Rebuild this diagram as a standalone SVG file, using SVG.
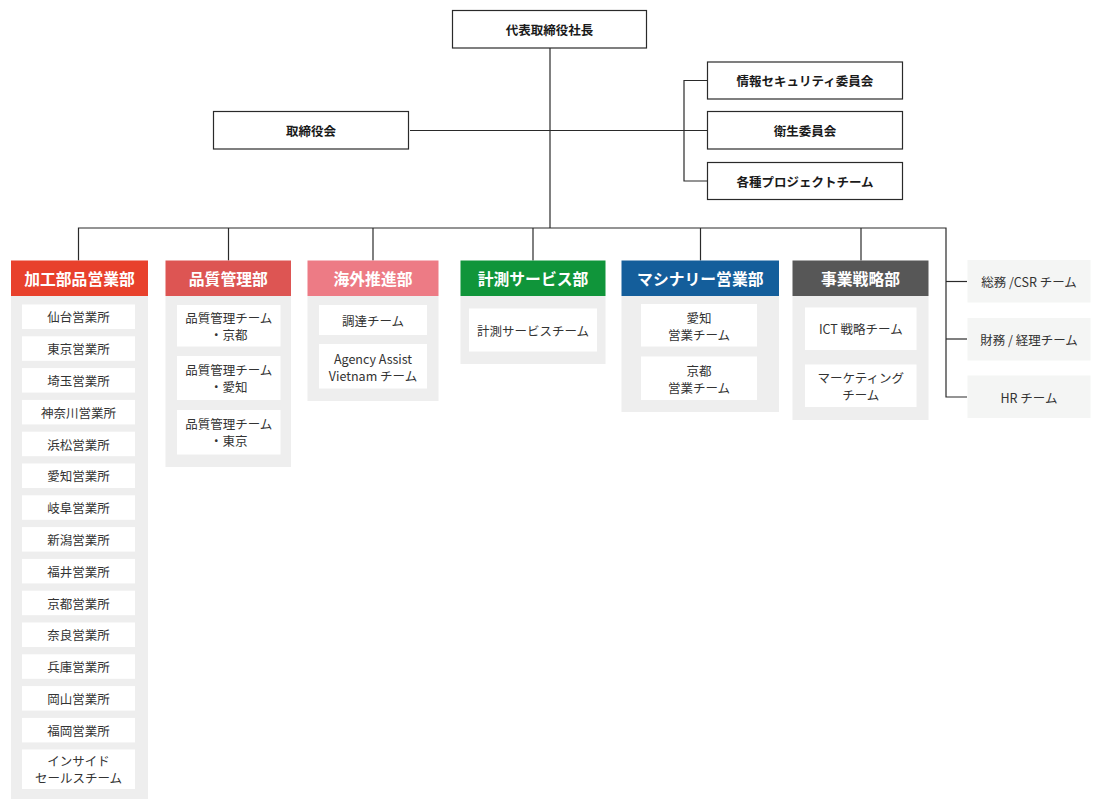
<svg xmlns="http://www.w3.org/2000/svg" width="1100" height="810" viewBox="0 0 1100 810">
<style>
.bg{fill:#ffffff}
.top{fill:#ffffff;stroke:#2a2a2a;stroke-width:1.2}
.toptx{font-family:"Noto Sans CJK JP","Noto Sans",sans-serif;font-size:12.5px;font-weight:bold;fill:#1a1a1a;text-anchor:middle;dominant-baseline:central}
.hdtx{font-family:"Noto Sans CJK JP","Noto Sans",sans-serif;font-size:15.8px;font-weight:bold;fill:#ffffff;text-anchor:middle;dominant-baseline:central}
.body{fill:#eeeeee}
.sub{fill:#ffffff}
.subtx{font-family:"Noto Sans CJK JP","Noto Sans",sans-serif;font-size:12.5px;fill:#333333;text-anchor:middle;dominant-baseline:central}
.team{fill:#f4f5f4}
.ln{stroke:#2a2a2a;stroke-width:1.2;fill:none}
</style>
<rect class="bg" x="0" y="0" width="1100" height="810"/>
<g id="connectors">
<path class="ln" d="M550 48 V228"/>
<path class="ln" d="M410 130.5 H707"/>
<path class="ln" d="M707 80.5 H684 V181 H707"/>
<path class="ln" d="M78.5 260.5 V228 H946 V397 H967"/>
<path class="ln" d="M228.5 228 V260.5"/>
<path class="ln" d="M373 228 V260.5"/>
<path class="ln" d="M533 228 V260.5"/>
<path class="ln" d="M700.5 228 V260.5"/>
<path class="ln" d="M861 228 V260.5"/>
<path class="ln" d="M946 281.5 H967"/>
<path class="ln" d="M946 339 H967"/>
</g>
<g id="president"><rect class="top" x="452.5" y="10.5" width="194" height="37.5"/><text class="toptx" x="549.5" y="29.5">代表取締役社長</text></g>
<g id="board"><rect class="top" x="213.5" y="111.5" width="195" height="37.5"/><text class="toptx" x="311" y="130.5">取締役会</text></g>
<g id="security"><rect class="top" x="707.5" y="62" width="195" height="37"/><text class="toptx" x="805" y="80.5">情報セキュリティ委員会</text></g>
<g id="health"><rect class="top" x="707.5" y="111.5" width="195" height="37.5"/><text class="toptx" x="805" y="130.5">衛生委員会</text></g>
<g id="projects"><rect class="top" x="707.5" y="162.5" width="195" height="37"/><text class="toptx" x="805" y="181">各種プロジェクトチーム</text></g>

<g id="dept-kako">
<rect class="body" x="11" y="296" width="137" height="503"/>
<rect x="11" y="260.5" width="137" height="35.5" fill="#e8412c"/>
<text class="hdtx" x="79.5" y="278.5">加工部品営業部</text>
<rect class="sub" x="22" y="304.5" width="113" height="24.5"/><text class="subtx" x="78.5" y="316.8">仙台営業所</text>
<rect class="sub" x="22" y="336.3" width="113" height="24.5"/><text class="subtx" x="78.5" y="348.6">東京営業所</text>
<rect class="sub" x="22" y="368.1" width="113" height="24.5"/><text class="subtx" x="78.5" y="380.4">埼玉営業所</text>
<rect class="sub" x="22" y="399.9" width="113" height="24.5"/><text class="subtx" x="78.5" y="412.2">神奈川営業所</text>
<rect class="sub" x="22" y="431.7" width="113" height="24.5"/><text class="subtx" x="78.5" y="444">浜松営業所</text>
<rect class="sub" x="22" y="463.5" width="113" height="24.5"/><text class="subtx" x="78.5" y="475.8">愛知営業所</text>
<rect class="sub" x="22" y="495.3" width="113" height="24.5"/><text class="subtx" x="78.5" y="507.6">岐阜営業所</text>
<rect class="sub" x="22" y="527.1" width="113" height="24.5"/><text class="subtx" x="78.5" y="539.4">新潟営業所</text>
<rect class="sub" x="22" y="558.9" width="113" height="24.5"/><text class="subtx" x="78.5" y="571.2">福井営業所</text>
<rect class="sub" x="22" y="590.7" width="113" height="24.5"/><text class="subtx" x="78.5" y="603">京都営業所</text>
<rect class="sub" x="22" y="622.5" width="113" height="24.5"/><text class="subtx" x="78.5" y="634.8">奈良営業所</text>
<rect class="sub" x="22" y="654.3" width="113" height="24.5"/><text class="subtx" x="78.5" y="666.6">兵庫営業所</text>
<rect class="sub" x="22" y="686.1" width="113" height="24.5"/><text class="subtx" x="78.5" y="698.4">岡山営業所</text>
<rect class="sub" x="22" y="717.9" width="113" height="24.5"/><text class="subtx" x="78.5" y="730.2">福岡営業所</text>
<rect class="sub" x="22" y="749.5" width="113" height="39.5"/><text class="subtx" x="78.5" y="760.5">インサイド</text><text class="subtx" x="78.5" y="777.5">セールスチーム</text>
</g>

<g id="dept-quality">
<rect class="body" x="165.5" y="296" width="125.5" height="171"/>
<rect x="165.5" y="260.5" width="125.5" height="35.5" fill="#dd5553"/>
<text class="hdtx" x="228.3" y="278.5">品質管理部</text>
<rect class="sub" x="177" y="305" width="103.5" height="41.5"/><text class="subtx" x="228.8" y="317.5">品質管理チーム</text><text class="subtx" x="228.8" y="334.5">・京都</text>
<rect class="sub" x="177" y="356" width="103.5" height="44"/><text class="subtx" x="228.8" y="369.5">品質管理チーム</text><text class="subtx" x="228.8" y="386.5">・愛知</text>
<rect class="sub" x="177" y="410" width="103.5" height="44.5"/><text class="subtx" x="228.8" y="423.5">品質管理チーム</text><text class="subtx" x="228.8" y="440.5">・東京</text>
</g>

<g id="dept-overseas">
<rect class="body" x="307.5" y="296" width="131" height="105"/>
<rect x="307.5" y="260.5" width="131" height="35.5" fill="#ed7b85"/>
<text class="hdtx" x="373" y="278.5">海外推進部</text>
<rect class="sub" x="319" y="305" width="108" height="30"/><text class="subtx" x="373" y="320.5">調達チーム</text>
<rect class="sub" x="319" y="344" width="108" height="44.5"/><text class="subtx" x="373" y="358">Agency Assist</text><text class="subtx" x="373" y="375">Vietnam チーム</text>
</g>

<g id="dept-measure">
<rect class="body" x="460.5" y="296" width="145" height="68"/>
<rect x="460.5" y="260.5" width="145" height="35.5" fill="#10953a"/>
<text class="hdtx" x="533" y="278.5">計測サービス部</text>
<rect class="sub" x="469" y="308.5" width="128" height="43"/><text class="subtx" x="533" y="330">計測サービスチーム</text>
</g>

<g id="dept-machinery">
<rect class="body" x="621.5" y="296" width="157.5" height="116"/>
<rect x="621.5" y="260.5" width="157.5" height="35.5" fill="#145e9b"/>
<text class="hdtx" x="700.3" y="278.5">マシナリー営業部</text>
<rect class="sub" x="641" y="304" width="116" height="42.5"/><text class="subtx" x="699" y="317">愛知</text><text class="subtx" x="699" y="334">営業チーム</text>
<rect class="sub" x="641" y="356.5" width="116" height="43.5"/><text class="subtx" x="699" y="370">京都</text><text class="subtx" x="699" y="387">営業チーム</text>
</g>

<g id="dept-strategy">
<rect class="body" x="792.5" y="296" width="136" height="124"/>
<rect x="792.5" y="260.5" width="136" height="35.5" fill="#575757"/>
<text class="hdtx" x="860.5" y="278.5">事業戦略部</text>
<rect class="sub" x="805" y="307.5" width="111.5" height="42.5"/><text class="subtx" x="860.8" y="328.8">ICT 戦略チーム</text>
<rect class="sub" x="805" y="364.5" width="111.5" height="42.5"/><text class="subtx" x="860.8" y="377.5">マーケティング</text><text class="subtx" x="860.8" y="394.5">チーム</text>
</g>

<g id="team-ga"><rect class="team" x="967.5" y="260" width="123" height="42.5"/><text class="subtx" x="1029" y="281.5">総務 /CSR チーム</text></g>
<g id="team-finance"><rect class="team" x="967.5" y="318" width="123" height="42.5"/><text class="subtx" x="1029" y="339.3">財務 / 経理チーム</text></g>
<g id="team-hr"><rect class="team" x="967.5" y="375.5" width="123" height="42.5"/><text class="subtx" x="1029" y="397">HR チーム</text></g>
</svg>
